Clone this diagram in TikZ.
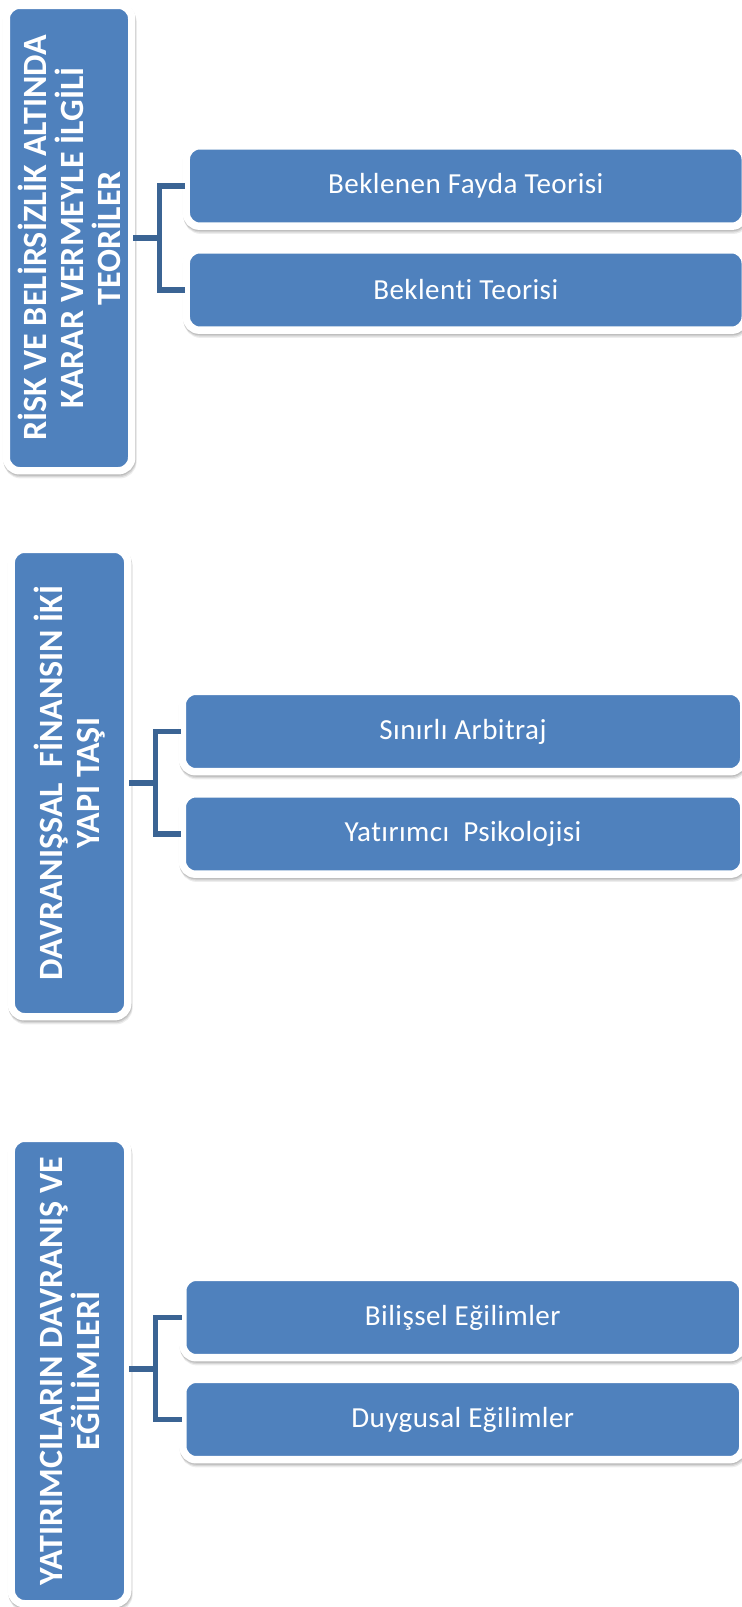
\documentclass[tikz,border=0pt]{standalone}
\usepackage{fontspec}
\setmainfont[Ligatures=NoCommon]{Carlito}
\usetikzlibrary{shadows}
\definecolor{boxblue}{RGB}{79,129,189}
\definecolor{connblue}{RGB}{59,100,148}
\tikzset{
  softshadow/.style={
    drop shadow={shadow xshift=0.3pt, shadow yshift=-1.0pt, opacity=0.10, fill=black, draw=black, line width=5.6pt},
    drop shadow={shadow xshift=0.6pt, shadow yshift=-2.0pt, opacity=0.09, fill=black, draw=black, line width=5.6pt},
    drop shadow={shadow xshift=0.9pt, shadow yshift=-3.0pt, opacity=0.07, fill=black, draw=black, line width=5.6pt}
  },
  bluebox/.style={rectangle, rounded corners=10pt, fill=boxblue, draw=white, line width=5.6pt, inner sep=0pt, softshadow},
  tallbox/.style={bluebox, minimum width=#1},
  tallbox/.default=87.4pt,
  childbox/.style={bluebox, minimum height=60.3pt, text=white, font=\fontsize{21.8pt}{25pt}\selectfont\addfontfeatures{LetterSpace=1.5}},
  talltext/.style={rotate=90, align=center, text=white, inner sep=0pt, font=\bfseries\fontsize{25.5pt}{27.75pt}\selectfont},
  conn/.style={draw=connblue, line width=4.1pt, line join=miter, line cap=rect}
}
\begin{document}
\begin{tikzpicture}[x=0.75pt,y=-0.75pt]
\fill[white] (0,0) rectangle (742,1607);
\useasboundingbox (0,0) rectangle (742,1607);

% Group 1
\node[tallbox=94.1pt, minimum height=349.1pt] (t1) at (69,238) {};
\node[talltext] (t1txt) at (t1.center) {RİSK VE BELİRSİZLİK ALTINDA\\KARAR VERMEYLE İLGİLİ\\TEORİLER};
\node[childbox, minimum width=419.25pt] (c1a) at (465.75,186) {Beklenen Fayda Teorisi};
\node[childbox, minimum width=419.25pt] (c1b) at (465.75,290) {Beklenti Teorisi};
\coordinate (j1) at (159.5,238);

% Group 2
\node[tallbox, minimum height=350.6pt] (t2) at (69.5,783) {};
\node[talltext] (t2txt) at (t2.center) {DAVRANIŞSAL\ \ FİNANSIN İKİ\\YAPI TAŞI};
\node[childbox, minimum width=421.1pt] (c2a) at (463,731.5) {Sınırlı Arbitraj};
\node[childbox, minimum width=421.1pt] (c2b) at (463,834) {Yatırımcı\ \ Psikolojisi};
\coordinate (j2) at (155.5,783);

% Group 3
\node[tallbox, minimum height=349.1pt] (t3) at (69.5,1371) {};
\node[talltext] (t3txt) at (t3.center) {YATIRIMCILARIN DAVRANIŞ VE\\EĞİLİMLERİ};
\node[childbox, minimum width=420pt] (c3a) at (462.8,1317.5) {Bilişsel Eğilimler};
\node[childbox, minimum width=420pt] (c3b) at (462.8,1419.5) {Duygusal Eğilimler};
\coordinate (j3) at (155.5,1369);

% connectors
\draw[conn] (t1.east) -- (j1);
\draw[conn] (c1a.west) -| (j1) |- (c1b.west);
\draw[conn] (t2.east) -- (j2);
\draw[conn] (c2a.west) -| (j2) |- (c2b.west);
\draw[conn] (t3.east |- j3) -- (j3);
\draw[conn] (c3a.west) -| (j3) |- (c3b.west);
\end{tikzpicture}
\end{document}
